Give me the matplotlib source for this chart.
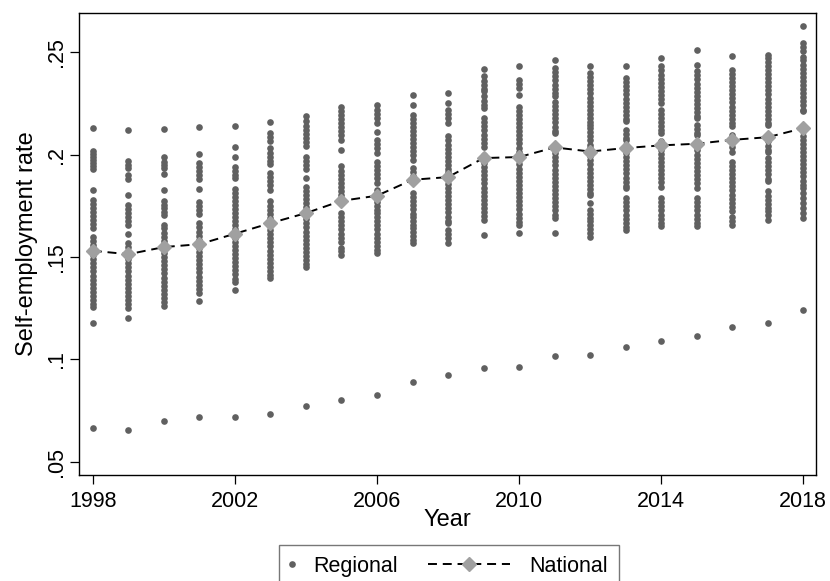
import matplotlib.pyplot as plt
from matplotlib.legend_handler import HandlerLine2D

plt.rcParams['font.family'] = ['Liberation Sans', 'DejaVu Sans']

#### DATA ####

years = list(range(1998, 2019))

# national self-employment rate (diamonds)
national = [0.1531, 0.1514, 0.1549, 0.1563, 0.1614, 0.1666, 0.1715, 0.1775, 0.1800, 0.1878,
            0.1891, 0.1984, 0.1989, 0.2036, 0.2016, 0.2033, 0.2046, 0.2054, 0.2073, 0.2086, 0.2130]

# the one region far below the others
low_region = [0.0665, 0.0657, 0.0699, 0.0717, 0.0717, 0.0732, 0.0772, 0.0802, 0.0828, 0.0891,
              0.0922, 0.0960, 0.0965, 0.1018, 0.1023, 0.1059, 0.1089, 0.1116, 0.1159, 0.1178, 0.1242]

# regional rates, one list per year
r1998 = [0.213, 0.202, 0.2005, 0.199, 0.1975, 0.196, 0.1945, 0.193, 0.183, 0.178, 0.176, 0.174,
         0.172, 0.170, 0.168, 0.166, 0.164, 0.160, 0.158, 0.156, 0.1545, 0.153, 0.151, 0.149,
         0.147, 0.145, 0.143, 0.141, 0.139, 0.137, 0.135, 0.133, 0.131, 0.129, 0.127, 0.1258, 0.118]
r1999 = [0.2122, 0.197, 0.195, 0.1935, 0.190, 0.188, 0.1804, 0.1755, 0.1735, 0.1715, 0.1695,
         0.1675, 0.1655, 0.1612, 0.157, 0.155, 0.153, 0.151, 0.149, 0.147, 0.145, 0.143, 0.141,
         0.139, 0.137, 0.135, 0.133, 0.131, 0.129, 0.127, 0.125, 0.120]
r2000 = [0.2126, 0.1987, 0.1967, 0.195, 0.1935, 0.1907, 0.1829, 0.1772, 0.1755, 0.1738, 0.172,
         0.1705, 0.1658, 0.164, 0.162, 0.160, 0.158, 0.156, 0.154, 0.152, 0.150, 0.148, 0.146,
         0.144, 0.142, 0.140, 0.138, 0.136, 0.134, 0.132, 0.130, 0.128, 0.1262]
r2001 = [0.2135, 0.2003, 0.196, 0.194, 0.192, 0.190, 0.188, 0.1834, 0.1769, 0.175, 0.173, 0.171,
         0.1665, 0.1645, 0.1625, 0.1605, 0.1585, 0.1565, 0.1545, 0.1525, 0.1505, 0.1485, 0.1465,
         0.1445, 0.1425, 0.1405, 0.1385, 0.1365, 0.1345, 0.1325, 0.1286]
r2002 = [0.2142, 0.2036, 0.1989, 0.194, 0.192, 0.190, 0.1885, 0.1834, 0.1815, 0.1795, 0.1775,
         0.1755, 0.1735, 0.1715, 0.1695, 0.1675, 0.1655, 0.1635, 0.1615, 0.1595, 0.1575, 0.1555,
         0.1535, 0.1515, 0.1495, 0.1475, 0.1455, 0.1435, 0.1415, 0.1395, 0.138, 0.134]
r2003 = [0.2162, 0.2106, 0.2085, 0.2065, 0.2033, 0.201, 0.199, 0.197, 0.1955, 0.191, 0.189,
         0.187, 0.185, 0.183, 0.1772, 0.1752, 0.1732, 0.1712, 0.1692, 0.1672, 0.1652, 0.1632,
         0.1612, 0.1592, 0.1572, 0.1552, 0.1532, 0.1512, 0.1492, 0.1472, 0.1452, 0.1432, 0.1412, 0.1397]
r2004 = [0.2192, 0.2163, 0.2143, 0.2123, 0.2103, 0.2083, 0.2063, 0.2043, 0.1988, 0.1968, 0.1948,
         0.1932, 0.1886, 0.1845, 0.1825, 0.1805, 0.1785, 0.1765, 0.1745, 0.1725, 0.1705, 0.1685,
         0.1665, 0.1645, 0.1625, 0.1605, 0.1585, 0.1565, 0.1545, 0.1525, 0.1505, 0.1485, 0.1465, 0.1454]
r2005 = [0.2236, 0.2216, 0.2196, 0.2176, 0.2156, 0.2136, 0.2116, 0.2096, 0.2073, 0.2024, 0.1943,
         0.1923, 0.1903, 0.1883, 0.1863, 0.1843, 0.1823, 0.1804, 0.178, 0.1715, 0.1695, 0.1675,
         0.1655, 0.1635, 0.1615, 0.1595, 0.1575, 0.1545, 0.1528, 0.1511]
r2006 = [0.2245, 0.222, 0.220, 0.218, 0.2155, 0.2109, 0.2073, 0.2053, 0.2033, 0.2008, 0.1967,
         0.1947, 0.1927, 0.1907, 0.1887, 0.1861, 0.1829, 0.1809, 0.1789, 0.1769, 0.1749, 0.1731,
         0.1715, 0.1695, 0.1675, 0.1655, 0.1635, 0.1615, 0.1595, 0.1575, 0.1555, 0.1535, 0.1519]
r2007 = [0.2293, 0.2245, 0.2196, 0.2176, 0.2156, 0.2136, 0.2116, 0.2096, 0.2076, 0.2057, 0.204,
         0.202, 0.200, 0.1976, 0.1935, 0.1915, 0.1895, 0.1878, 0.1813, 0.1793, 0.1773, 0.1753,
         0.1733, 0.1713, 0.1698, 0.1674, 0.1655, 0.1641, 0.1625, 0.1605, 0.1585, 0.1568]
r2008 = [0.2302, 0.2253, 0.222, 0.220, 0.218, 0.2155, 0.209, 0.207, 0.205, 0.203, 0.201, 0.199,
         0.197, 0.195, 0.193, 0.1914, 0.1894, 0.1878, 0.1858, 0.1838, 0.1818, 0.1798, 0.1778,
         0.1758, 0.1738, 0.1718, 0.1698, 0.1678, 0.1666, 0.1633, 0.1613, 0.1593, 0.1568]
r2009 = [0.2421, 0.2383, 0.2363, 0.2343, 0.2323, 0.231, 0.2285, 0.2265, 0.2245, 0.2228, 0.2179,
         0.2159, 0.2139, 0.2119, 0.2099, 0.2079, 0.2059, 0.2039, 0.200, 0.198, 0.196, 0.194,
         0.192, 0.190, 0.188, 0.186, 0.184, 0.182, 0.180, 0.178, 0.176, 0.174, 0.172, 0.170,
         0.168, 0.1609]
r2010 = [0.2432, 0.2367, 0.2346, 0.2326, 0.2293, 0.2236, 0.2216, 0.2196, 0.2176, 0.2156, 0.2136,
         0.2116, 0.2096, 0.2076, 0.2056, 0.2033, 0.2013, 0.1993, 0.1973, 0.1953, 0.1933, 0.1913,
         0.1893, 0.1873, 0.1853, 0.1833, 0.1813, 0.1793, 0.1773, 0.1753, 0.1733, 0.1713, 0.1693,
         0.1673, 0.1658, 0.1617]
r2011 = [0.2465, 0.2424, 0.2404, 0.2384, 0.2367, 0.2342, 0.2322, 0.2302, 0.2285, 0.2258, 0.2238,
         0.2218, 0.2198, 0.2178, 0.2158, 0.2138, 0.2118, 0.2106, 0.2008, 0.1988, 0.1968, 0.1948,
         0.1928, 0.1908, 0.1888, 0.1868, 0.1848, 0.1828, 0.1808, 0.1788, 0.1768, 0.1748, 0.1728,
         0.1708, 0.169, 0.1617]
r2012 = [0.2432, 0.240, 0.238, 0.236, 0.234, 0.232, 0.230, 0.228, 0.226, 0.224, 0.222, 0.220,
         0.218, 0.216, 0.2147, 0.213, 0.211, 0.209, 0.207, 0.205, 0.2033, 0.2013, 0.1993, 0.1973,
         0.1953, 0.1933, 0.1913, 0.1893, 0.1873, 0.1853, 0.1833, 0.1813, 0.1804, 0.1764, 0.1731,
         0.1711, 0.1691, 0.1674, 0.1658, 0.1638, 0.1618, 0.160]
r2013 = [0.2432, 0.2375, 0.2355, 0.2335, 0.2315, 0.2295, 0.2275, 0.2255, 0.2235, 0.2215, 0.2195,
         0.2175, 0.2163, 0.2122, 0.2102, 0.2082, 0.2073, 0.2049, 0.2029, 0.2009, 0.1989, 0.1969,
         0.1949, 0.1929, 0.1909, 0.1889, 0.1869, 0.1849, 0.1837, 0.1788, 0.1768, 0.1748, 0.1728,
         0.1708, 0.1688, 0.1668, 0.1648, 0.1633]
r2014 = [0.2473, 0.2432, 0.2412, 0.2392, 0.2372, 0.2352, 0.2332, 0.2312, 0.2292, 0.2272, 0.2252,
         0.222, 0.220, 0.218, 0.216, 0.214, 0.212, 0.2106, 0.2065, 0.2045, 0.2025, 0.2005, 0.1985,
         0.1965, 0.1945, 0.1925, 0.1905, 0.1885, 0.1865, 0.1845, 0.1788, 0.1768, 0.1748, 0.1728,
         0.1708, 0.1688, 0.1668, 0.165]
r2015 = [0.2513, 0.244, 0.2408, 0.2388, 0.2368, 0.2348, 0.2328, 0.2308, 0.2288, 0.2268, 0.2248,
         0.2228, 0.2208, 0.2188, 0.2179, 0.2147, 0.2127, 0.2107, 0.2098, 0.2041, 0.2021, 0.2001,
         0.1981, 0.1961, 0.1941, 0.1921, 0.1901, 0.1881, 0.1861, 0.1837, 0.1788, 0.1768, 0.1748,
         0.1728, 0.1708, 0.1688, 0.1668, 0.165]
r2016 = [0.2481, 0.2416, 0.2396, 0.2376, 0.2356, 0.2336, 0.2316, 0.2296, 0.2276, 0.2256, 0.2236,
         0.2216, 0.2196, 0.2176, 0.2156, 0.2139, 0.2098, 0.2078, 0.2058, 0.2038, 0.2016, 0.1967,
         0.1947, 0.1927, 0.1907, 0.1887, 0.1867, 0.1847, 0.1829, 0.1804, 0.1784, 0.1764, 0.1744,
         0.1723, 0.1698, 0.1678, 0.1658]
r2017 = [0.2489, 0.2475, 0.2455, 0.2435, 0.2415, 0.2395, 0.2375, 0.2355, 0.2335, 0.2315, 0.2295,
         0.2275, 0.2255, 0.2235, 0.2215, 0.2195, 0.2175, 0.2155, 0.2147, 0.2065, 0.2045, 0.2025,
         0.2016, 0.1984, 0.1964, 0.1944, 0.1924, 0.1904, 0.1884, 0.187, 0.1821, 0.1801, 0.1781,
         0.1761, 0.1741, 0.1723, 0.1707, 0.1682]
r2018 = [0.2628, 0.2546, 0.2526, 0.2506, 0.2478, 0.2462, 0.2441, 0.2421, 0.2401, 0.2381, 0.2361,
         0.2341, 0.2321, 0.2301, 0.2281, 0.2261, 0.2241, 0.2221, 0.2212, 0.2114, 0.2094, 0.2074,
         0.2054, 0.2034, 0.2014, 0.1994, 0.1974, 0.1954, 0.1934, 0.1914, 0.1894, 0.1874, 0.1854,
         0.1837, 0.1812, 0.1788, 0.1763, 0.1739, 0.1714, 0.169]

regional = [r1998, r1999, r2000, r2001, r2002, r2003, r2004, r2005, r2006, r2007, r2008,
            r2009, r2010, r2011, r2012, r2013, r2014, r2015, r2016, r2017, r2018]

ytick_vals = [0.05, 0.10, 0.15, 0.20, 0.25]
ytick_labels = ['.05', '.1', '.15', '.2', '.25']

#### PLOT ####

class WideLine(HandlerLine2D):
    # legend line for National drawn longer, reaching to the left of its handle box
    def __init__(self, ext, **kw):
        super().__init__(**kw)
        self.ext = ext

    def create_artists(self, legend, orig_handle, xdescent, ydescent, width, height, fontsize, trans):
        e = self.ext * fontsize
        return super().create_artists(legend, orig_handle, xdescent + e, ydescent,
                                      width + e, height, fontsize, trans)


fig = plt.figure(figsize=(8.3, 5.81), dpi=100)
ax = fig.add_axes([79.3 / 830, 1 - 475 / 581, (815.7 - 79.3) / 830, (475 - 13) / 581])

xs = []
ys = []
for year, vals in zip(years, regional):
    for v in vals:
        xs.append(year)
        ys.append(v)
xs += years
ys += low_region

dots, = ax.plot(xs, ys, linestyle='none', marker='o', ms=4.8, color='#606060',
                mec='none', label='Regional', zorder=2)
nat, = ax.plot(years, national, color='black', lw=1.4, dashes=(4.6, 3), marker='D', ms=7,
               mfc='#a0a0a0', mec='#a0a0a0', label='National', zorder=3)

ax.set_xlim(1997.62, 2018.35)
ax.set_ylim(0.0435, 0.2693)
ax.set_xticks(range(1998, 2019, 4))
ax.set_yticks(ytick_vals)
ax.set_yticklabels(ytick_labels, rotation=90, va='center')
ax.tick_params(direction='out', length=6.3, width=0.9, labelsize=15.5, color='black')
ax.tick_params(axis='x', pad=5)
ax.tick_params(axis='y', pad=2.6)
for s in ax.spines.values():
    s.set_linewidth(1.0)
    s.set_color('black')

ax.set_xlabel('Year', fontsize=17, labelpad=-2)
ax.set_ylabel('Self-employment rate', fontsize=17, labelpad=6)

fig.legend(handles=[dots, nat], labels=['Regional', 'National'], ncol=2,
           loc='upper center', bbox_to_anchor=(449 / 830, 1 - 545 / 581),
           fontsize=15.5, numpoints=1, handlelength=0.2, handletextpad=0.9,
           columnspacing=5.0, borderpad=0.5, borderaxespad=0, fancybox=False,
           frameon=True, edgecolor='#777777', framealpha=1,
           handler_map={nat: WideLine(3.6)})

fig.savefig('out.png', dpi=100)
